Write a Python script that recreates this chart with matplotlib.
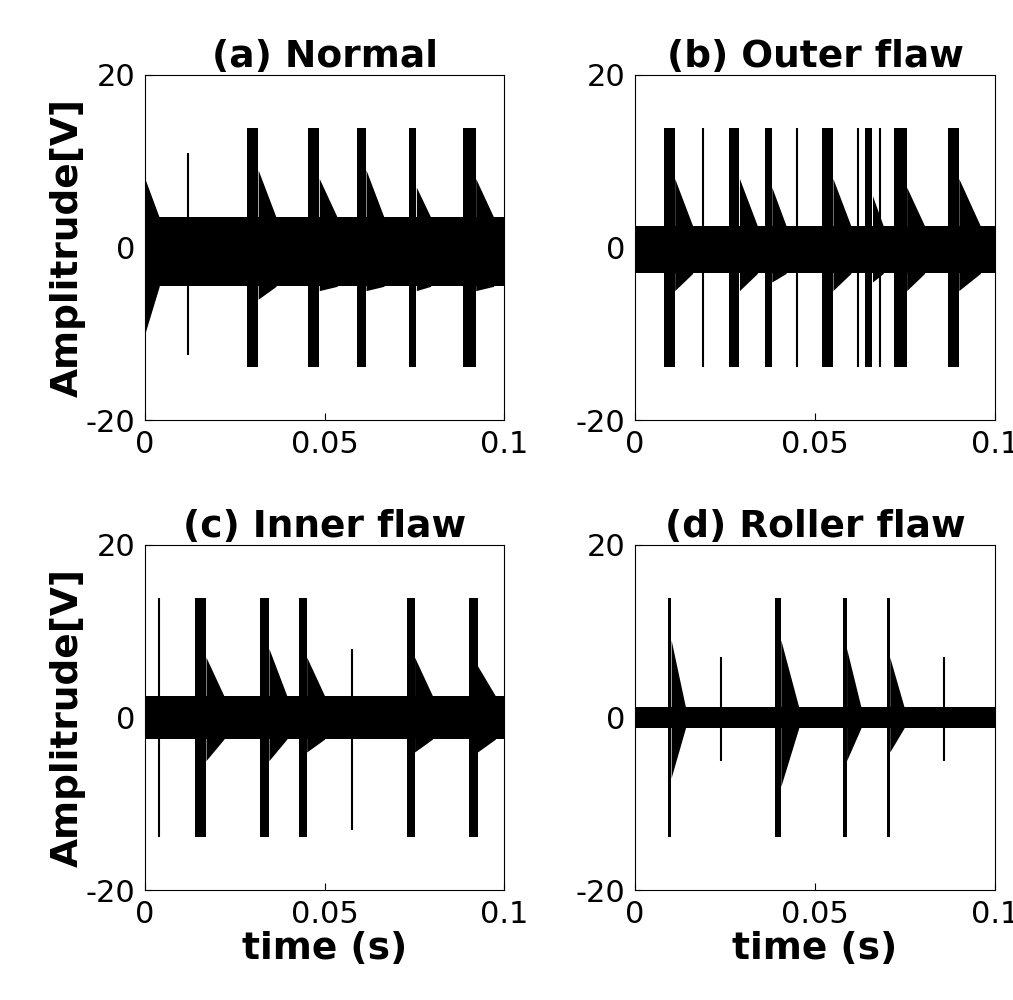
import matplotlib
matplotlib.use("Agg")
import matplotlib.pyplot as plt

plt.rcParams["axes.unicode_minus"] = False

titles = ["(a) Normal", "(b) Outer flaw", "(c) Inner flaw", "(d) Roller flaw"]
# baseline noise envelope (upper, lower)
base = [(3.5, -4.5), (2.5, -3.0), (2.5, -2.5), (1.2, -1.2)]
# clipped bursts: (start, end, top, bottom)
bursts = [
    [(0.0285, 0.0315, 13.8, -13.8), (0.0455, 0.0485, 13.8, -13.8), (0.0590, 0.0615, 13.8, -13.8),
     (0.0735, 0.0755, 13.8, -13.8), (0.0885, 0.0920, 13.8, -13.8)],
    [(0.0080, 0.0110, 13.8, -13.8), (0.0260, 0.0290, 13.8, -13.8), (0.0360, 0.0380, 13.8, -13.8),
     (0.0520, 0.0550, 13.8, -13.8), (0.0640, 0.0660, 13.8, -13.8), (0.0720, 0.0755, 13.8, -13.8),
     (0.0870, 0.0900, 13.8, -13.8)],
    [(0.0140, 0.0170, 13.8, -13.8), (0.0320, 0.0345, 13.8, -13.8), (0.0430, 0.0450, 13.8, -13.8),
     (0.0730, 0.0750, 13.8, -13.8), (0.0900, 0.0925, 13.8, -13.8)],
    [(0.0090, 0.0100, 13.8, -13.8), (0.0390, 0.0405, 13.8, -13.8), (0.0578, 0.0588, 13.8, -13.8),
     (0.0700, 0.0708, 13.8, -13.8)],
]
# decay tails after bursts: (start, width, top, bottom)
tails = [
    [(0.0000, 0.004, 8, -10), (0.0315, 0.005, 9, -6), (0.0485, 0.005, 8, -5), (0.0615, 0.005, 9, -5),
     (0.0755, 0.004, 7, -5), (0.0920, 0.005, 8, -5)],
    [(0.0110, 0.005, 8, -5), (0.0290, 0.005, 8, -5), (0.0380, 0.004, 7, -4), (0.0550, 0.005, 8, -5),
     (0.0660, 0.003, 6, -4), (0.0755, 0.005, 7, -5), (0.0900, 0.006, 8, -5)],
    [(0.0170, 0.005, 7, -5), (0.0345, 0.005, 8, -5), (0.0450, 0.005, 7, -4), (0.0750, 0.005, 7, -4),
     (0.0925, 0.005, 6, -4)],
    [(0.0100, 0.004, 9, -7), (0.0405, 0.005, 9, -8), (0.0588, 0.004, 8, -5), (0.0708, 0.004, 7, -4)],
]
# thin spikes: (time, top, bottom)
spikes = [
    [(0.0120, 11, -12.5)],
    [(0.0190, 13.8, -13.8), (0.0450, 13.8, -13.8), (0.0620, 13.8, -13.8), (0.0680, 13.8, -13.8)],
    [(0.0040, 13.8, -13.8), (0.0575, 8, -13)],
    [(0.0240, 7, -5), (0.0860, 7, -5)],
]

fig = plt.figure(figsize=(10.13, 10), dpi=100)
pos = [(0.143, 0.58), (0.627, 0.58), (0.143, 0.11), (0.627, 0.11)]
for i in range(4):
    ax = fig.add_axes([pos[i][0], pos[i][1], 0.355, 0.345])
    up, lo = base[i]
    ax.fill_between([0, 0.1], [up, up], [lo, lo], color="black", lw=0)
    for (s, w, t, b) in tails[i]:
        ax.fill_between([s, s + w], [t, up], [b, lo], color="black", lw=0)
    for (s, e, t, b) in bursts[i]:
        ax.fill_between([s, e], [t, t], [b, b], color="black", lw=0)
    for (x, t, b) in spikes[i]:
        ax.vlines(x, b, t, color="black", lw=1.5)
    ax.set_xlim(0, 0.1)
    ax.set_ylim(-20, 20)
    ax.set_xticks([0, 0.05, 0.1])
    ax.set_xticklabels(["0", "0.05", "0.1"])
    ax.set_yticks([-20, 0, 20])
    ax.tick_params(direction="in", labelsize=22, length=5, pad=7)
    ax.set_title(titles[i], fontsize=27, fontweight="bold", pad=3)
    if i % 2 == 0:
        ax.set_ylabel("Amplitrude[V]", fontsize=27, fontweight="bold", labelpad=0)
    if i >= 2:
        ax.set_xlabel("time (s)", fontsize=27, fontweight="bold", labelpad=2)

fig.savefig("out.png", dpi=100)
